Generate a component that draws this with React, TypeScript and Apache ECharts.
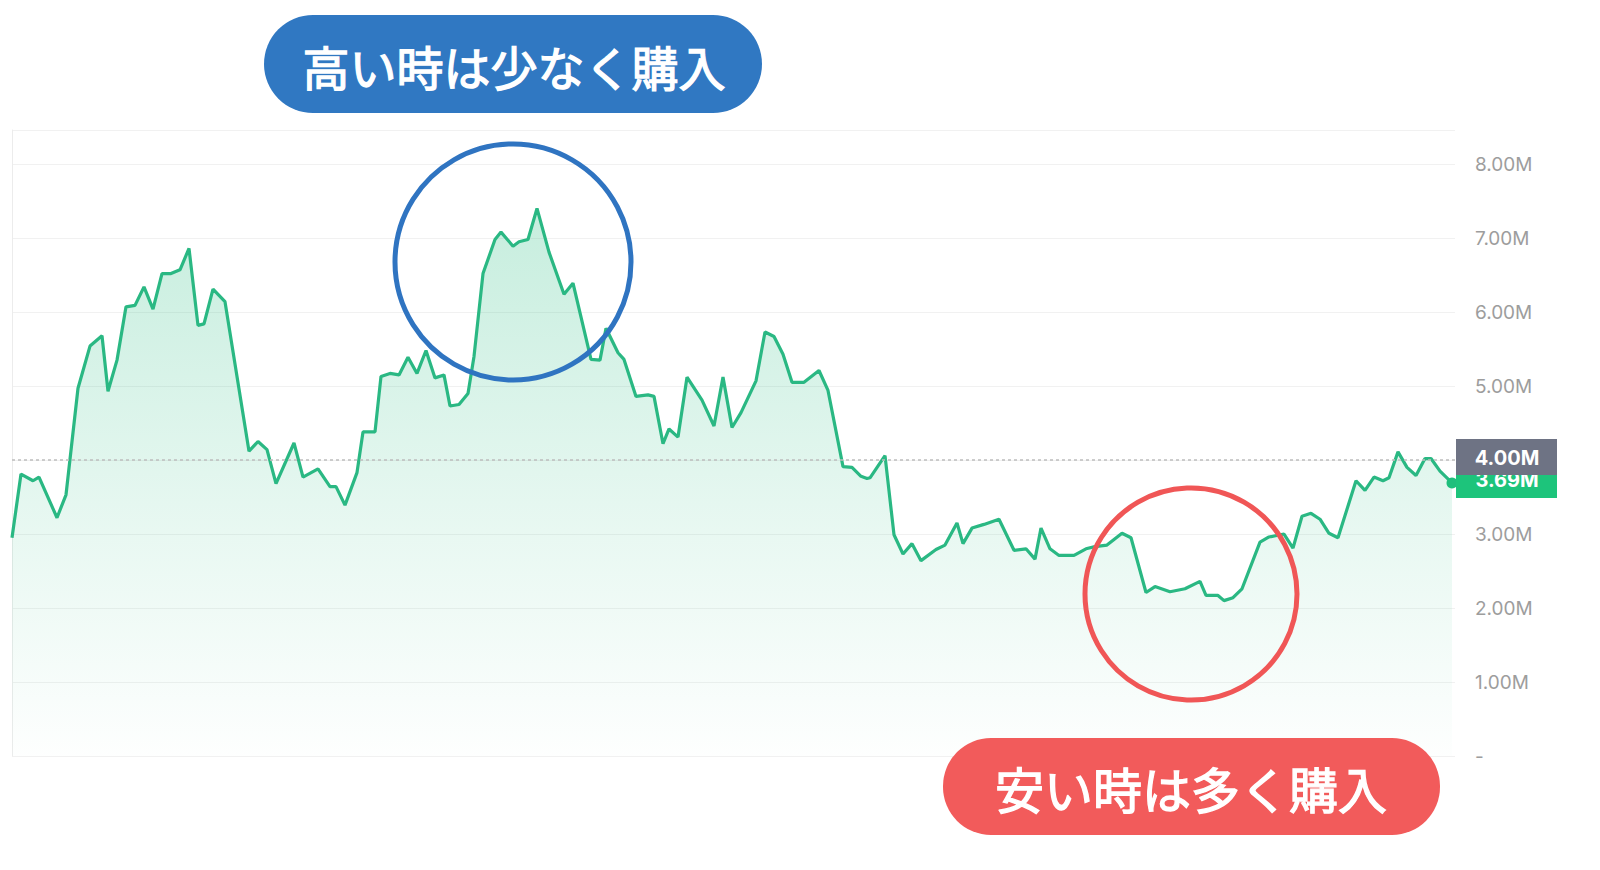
import React, { useEffect, useRef } from "react";
import * as echarts from "echarts";

// x position in "days" (time index), y in millions
const days = [
  0, 3, 7, 9, 15, 18, 22, 26, 30, 32, 35, 38, 41, 44, 47, 50, 53, 56, 59, 62,
  64, 67, 71, 79, 82, 85, 88, 94, 97, 102, 106, 108, 111, 115, 117, 121, 123, 126, 129, 132,
  135, 138, 141, 144, 146, 149, 152, 154, 157, 161, 163, 167, 169, 172, 175, 179, 184, 187, 193, 196,
  198, 202, 204, 208, 212, 214, 217, 219, 222, 225, 230, 234, 237, 240, 243, 248, 251, 254, 257, 260,
  264, 269, 272, 277, 280, 283, 285, 286, 291, 294, 297, 300, 303, 308, 311, 315, 317, 320, 324, 329,
  334, 338, 341, 343, 346, 349, 354, 358, 361, 365, 370, 373, 378, 381, 386, 391, 396, 398, 402, 404,
  407, 410, 416, 419, 424, 427, 430, 433, 436, 439, 442, 448, 451, 454, 457, 459, 462, 465, 468, 471,
  473, 476, 480,
];
const values = [
  2.95, 3.81, 3.72, 3.77, 3.22, 3.53, 4.97, 5.54, 5.68, 4.93, 5.35, 6.07, 6.09, 6.34, 6.04, 6.52, 6.52, 6.57, 6.86, 5.82,
  5.84, 6.31, 6.14, 4.12, 4.25, 4.14, 3.68, 4.23, 3.77, 3.88, 3.64, 3.64, 3.39, 3.83, 4.38, 4.38, 5.13, 5.17, 5.15, 5.39,
  5.17, 5.48, 5.11, 5.15, 4.73, 4.75, 4.9, 5.4, 6.52, 6.98, 7.08, 6.89, 6.95, 6.98, 7.4, 6.81, 6.24, 6.39, 5.36, 5.35,
  5.78, 5.45, 5.36, 4.86, 4.88, 4.86, 4.22, 4.42, 4.31, 5.12, 4.81, 4.46, 5.12, 4.44, 4.64, 5.07, 5.73, 5.67, 5.43, 5.05,
  5.05, 5.21, 4.94, 3.91, 3.9, 3.78, 3.75, 3.76, 4.06, 2.99, 2.73, 2.87, 2.64, 2.79, 2.85, 3.15, 2.87, 3.08, 3.13, 3.2,
  2.78, 2.8, 2.66, 3.08, 2.8, 2.71, 2.71, 2.8, 2.83, 2.85, 3.01, 2.95, 2.21, 2.29, 2.22, 2.26, 2.36, 2.17, 2.17, 2.1,
  2.14, 2.26, 2.89, 2.96, 3.0, 2.81, 3.24, 3.28, 3.2, 3.01, 2.95, 3.72, 3.59, 3.77, 3.72, 3.76, 4.11, 3.9, 3.79, 4.02,
  4.02, 3.85, 3.69,
];
const tickLabels = ["-", "1.00M", "2.00M", "3.00M", "4.00M", "5.00M", "6.00M", "7.00M", "8.00M"];
const refLevel = 4.0;
const refLabel = "4.00M";
const currentPrice = 3.69;
const currentLabel = "3.69M";
const highText = "高い時は少なく購入";
const lowText = "安い時は多く購入";

export default function App() {
  const ref = useRef<HTMLDivElement>(null);
  useEffect(() => {
    if (!ref.current) return;
    const chart = echarts.init(ref.current, null, { renderer: "svg" });
    const seriesData = days.map((d, i) => [d, values[i]]);
    chart.setOption({
      animation: false,
      grid: { left: 12, right: 145, top: 130, bottom: 114 },
      xAxis: { type: "value", min: 0, max: 481, show: false },
      yAxis: {
        type: "value",
        position: "right",
        min: 0,
        max: 8.46,
        interval: 1,
        axisLine: { show: true, lineStyle: { color: "#ececec", width: 1 } },
        axisTick: { show: false },
        splitLine: { show: true, lineStyle: { color: "#f1f1f1", width: 1 } },
        axisLabel: {
          margin: 20,
          color: "#9d9d9d",
          fontSize: 19,
          fontFamily: "Inter",
          formatter: (v: number) => (Number.isInteger(v) ? tickLabels[v] ?? "" : ""),
        },
      },
      series: [
        {
          type: "line",
          data: seriesData,
          symbol: "none",
          lineStyle: { color: "#2ab883", width: 3.2 },
          areaStyle: {
            color: new echarts.graphic.LinearGradient(0, 0, 0, 1, [
              { offset: 0, color: "rgba(43,190,131,0.38)" },
              { offset: 0.6, color: "rgba(43,190,131,0.15)" },
              { offset: 1, color: "rgba(43,190,131,0.01)" },
            ]),
          },
          markLine: {
            silent: true,
            symbol: "none",
            label: { show: false },
            lineStyle: { color: "#bdbdbd", type: [3, 3], width: 1.5 },
            data: [{ yAxis: refLevel }],
          },
          markPoint: {
            symbol: "circle",
            symbolSize: 11,
            itemStyle: { color: "#1fbf7c" },
            label: { show: false },
            data: [{ coord: [days[days.length - 1], values[values.length - 1]] }],
          },
        },
      ],
    });

    const yRef = chart.convertToPixel({ yAxisIndex: 0 }, refLevel) as number;
    const yCur = chart.convertToPixel({ yAxisIndex: 0 }, currentPrice) as number;
    const cjk = '"Noto Sans CJK JP", "Noto Sans CJK SC", sans-serif';
    const badgeH = 36;

    chart.setOption({
      graphic: [
        {
          type: "circle",
          shape: { cx: 513, cy: 262, r: 118 },
          style: { fill: "none", stroke: "#2f74c1", lineWidth: 5 },
          z: 100,
        },
        {
          type: "circle",
          shape: { cx: 1191, cy: 594, r: 106 },
          style: { fill: "none", stroke: "#f05656", lineWidth: 5 },
          z: 100,
        },
        {
          type: "rect",
          shape: { x: 264, y: 15, width: 498, height: 98, r: 49 },
          style: { fill: "#3078c2" },
          z: 100,
        },
        {
          type: "text",
          x: 514,
          y: 65,
          style: {
            text: highText,
            fill: "#ffffff",
            stroke: "#ffffff",
            lineWidth: 1.3,
            fontSize: 47,
            fontWeight: "normal",
            fontFamily: cjk,
            align: "center",
            verticalAlign: "middle",
          },
          z: 101,
        },
        {
          type: "rect",
          shape: { x: 943, y: 738, width: 497, height: 97, r: 48 },
          style: { fill: "#f25b5b" },
          z: 100,
        },
        {
          type: "text",
          x: 1191,
          y: 787,
          style: {
            text: lowText,
            fill: "#ffffff",
            stroke: "#ffffff",
            lineWidth: 1.3,
            fontSize: 49,
            fontWeight: "normal",
            fontFamily: cjk,
            align: "center",
            verticalAlign: "middle",
          },
          z: 101,
        },
        {
          type: "rect",
          shape: { x: 1456, y: yCur - 3 - badgeH / 2, width: 101, height: badgeH },
          style: { fill: "#1dc47b" },
          z: 100,
        },
        {
          type: "text",
          x: 1507,
          y: yCur - 3,
          style: {
            text: currentLabel,
            fill: "#ffffff",
            fontSize: 20,
            fontWeight: "bold",
            fontFamily: "Inter",
            align: "center",
            verticalAlign: "middle",
          },
          z: 101,
        },
        {
          type: "rect",
          shape: { x: 1456, y: yRef - 3 - badgeH / 2, width: 101, height: badgeH },
          style: { fill: "#6e7384" },
          z: 102,
        },
        {
          type: "text",
          x: 1507,
          y: yRef - 2,
          style: {
            text: refLabel,
            fill: "#ffffff",
            fontSize: 20,
            fontWeight: "bold",
            fontFamily: "Inter",
            align: "center",
            verticalAlign: "middle",
          },
          z: 103,
        },
      ],
    });

    return () => chart.dispose();
  }, []);

  return (
    <div
      ref={ref}
      style={{ position: "absolute", left: 0, top: 0, width: 1600, height: 870 }}
    />
  );
}
